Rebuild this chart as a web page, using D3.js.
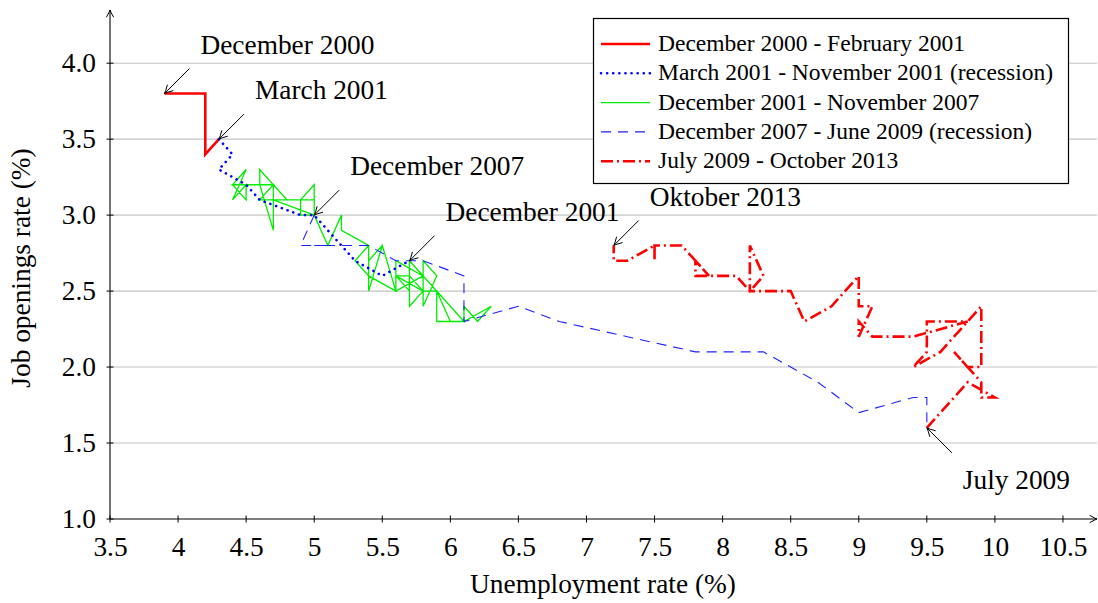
<!DOCTYPE html>
<html>
<head>
<meta charset="utf-8">
<script src="https://cdn.jsdelivr.net/npm/d3@7"></script>
<style>
  html, body { margin: 0; padding: 0; background: #fff; }
  svg { display: block; }
  svg text { fill: #000; }
</style>
</head>
<body>
<svg id="chart" width="1098" height="603"></svg>
<script>
// Beveridge curve, United States, December 2000 – October 2013
// x: unemployment rate (%), y: job openings rate (%), one point per month.

const xTickValues = [3.5, 4, 4.5, 5, 5.5, 6, 6.5, 7, 7.5, 8, 8.5, 9, 9.5, 10, 10.5];
const xTickLabels = ["3.5", "4", "4.5", "5", "5.5", "6", "6.5", "7", "7.5", "8", "8.5", "9", "9.5", "10", "10.5"];
const yTickValues = [1.0, 1.5, 2.0, 2.5, 3.0, 3.5, 4.0];
const yTickLabels = ["1.0", "1.5", "2.0", "2.5", "3.0", "3.5", "4.0"];

const periodNames = [
  "December 2000 - February 2001",
  "March 2001 - November 2001 (recession)",
  "December 2001 - November 2007",
  "December 2007 - June 2009 (recession)",
  "July 2009 - October 2013"
];

// Dec 2000 – Mar 2001
const unempDec2000 = [3.9, 4.2, 4.2, 4.3];
const openDec2000  = [3.8, 3.8, 3.4, 3.5];

// Mar 2001 – Dec 2001
const unempMar2001 = [4.3, 4.4, 4.3, 4.5, 4.6, 4.9, 5.0, 5.3, 5.5, 5.7];
const openMar2001  = [3.5, 3.4, 3.3, 3.2, 3.1, 3.0, 3.0, 2.7, 2.6, 2.7];

// Dec 2001 – Dec 2007
const unempDec2001 = [
  5.7,
  5.7, 5.8, 5.8, 5.9, 5.8, 5.8, 5.6, 5.7, 5.7, 6.0, 5.9, 6.0,
  5.9, 5.9, 6.0, 6.1, 6.3, 6.2, 6.1, 6.1, 6.0, 5.9, 5.8, 5.7,
  5.6, 5.6, 5.8, 5.6, 5.6, 5.5, 5.4, 5.4, 5.4, 5.5, 5.6, 5.4,
  5.3, 5.4, 5.2, 5.2, 5.1, 5.0, 5.0, 4.9, 5.0, 5.0, 4.9, 4.9,
  4.7, 4.8, 4.7, 4.7, 4.6, 4.6, 4.7, 4.7, 4.5, 4.4, 4.5, 4.4,
  4.5, 4.5, 4.4, 4.5, 4.4, 4.6, 4.7, 4.6, 4.7, 4.8, 4.7, 5.0
];
const openDec2001 = [
  2.7,
  2.4, 2.5, 2.7, 2.6, 2.4, 2.5, 2.6, 2.5, 2.7, 2.4, 2.5, 2.3,
  2.5, 2.3, 2.3, 2.3, 2.4, 2.3, 2.4, 2.3, 2.4, 2.5, 2.5, 2.6,
  2.6, 2.5, 2.6, 2.7, 2.5, 2.8, 2.5, 2.8, 2.7, 2.8, 2.5, 2.6,
  2.7, 2.8, 2.9, 3.0, 2.8, 3.0, 3.1, 3.1, 3.2, 3.0, 3.0, 3.1,
  3.1, 3.1, 3.2, 2.9, 3.2, 3.3, 3.2, 3.2, 3.2, 3.2, 3.3, 3.1,
  3.2, 3.1, 3.2, 3.2, 3.2, 3.2, 3.2, 3.1, 3.1, 3.1, 3.1, 3.0
];

// Dec 2007 – Jul 2009
const unempDec2007 = [5.0, 4.9, 5.0, 5.1, 5.0, 5.4, 5.6, 5.8, 6.1, 6.1, 6.5, 6.8, 7.3, 7.8, 8.3, 8.7, 9.0, 9.4, 9.5, 9.5];
const openDec2007  = [3.0, 2.8, 2.8, 2.8, 2.8, 2.8, 2.7, 2.7, 2.6, 2.3, 2.4, 2.3, 2.2, 2.1, 2.1, 1.9, 1.7, 1.8, 1.8, 1.6];

// Jul 2009 – Oct 2013
const unempJul2009 = [
  9.5, 9.6, 9.8, 10.0, 9.9, 9.9,
  9.7, 9.8, 9.9, 9.9, 9.6, 9.4, 9.5, 9.5, 9.5, 9.5, 9.8, 9.4,
  9.1, 9.0, 9.0, 9.1, 9.0, 9.0, 9.0, 9.0, 9.0, 8.8, 8.6, 8.5,
  8.3, 8.2, 8.2, 8.3, 8.2, 8.2, 8.2, 8.1, 7.8, 7.8, 7.9, 7.8,
  7.7, 7.5, 7.5, 7.5, 7.5, 7.5, 7.3, 7.2, 7.2, 7.2
];
const openJul2009 = [
  1.6, 1.7, 1.9, 1.8, 1.8, 1.9,
  2.1, 2.0, 2.0, 2.4, 2.1, 2.0, 2.1, 2.3, 2.3, 2.3, 2.3, 2.2,
  2.2, 2.3, 2.2, 2.4, 2.4, 2.4, 2.6, 2.6, 2.6, 2.4, 2.3, 2.5,
  2.5, 2.5, 2.8, 2.6, 2.5, 2.5, 2.5, 2.6, 2.6, 2.7, 2.6, 2.7,
  2.8, 2.8, 2.7, 2.8, 2.8, 2.8, 2.7, 2.7, 2.7, 2.8
];

// Labelled months: [text, unemployment, openings, side]
const callouts = [
  ["December 2000", unempDec2000[0], openDec2000[0], "above"],
  ["March 2001", unempMar2001[0], openMar2001[0], "above"],
  ["December 2007", unempDec2007[0], openDec2007[0], "above"],
  ["December 2001", unempDec2001[0], openDec2001[0], "above"],
  ["Oktober 2013", unempJul2009[unempJul2009.length - 1], openJul2009[openJul2009.length - 1], "above"],
  ["July 2009", unempJul2009[0], openJul2009[0], "below"]
];

// ---- series styles ----
const zip = (u, v) => u.map((d, i) => [d, v[i]]);
const series = [
  { name: periodNames[0], pts: zip(unempDec2000, openDec2000), color: "#ff0000", width: 2.6, dash: null, cap: "butt" },
  { name: periodNames[1], pts: zip(unempMar2001, openMar2001), color: "#0000ff", width: 2.6, dash: "0.1 6", cap: "round" },
  { name: periodNames[2], pts: zip(unempDec2001, openDec2001), color: "#00ee00", width: 1.3, dash: null, cap: "butt" },
  { name: periodNames[3], pts: zip(unempDec2007, openDec2007), color: "#2020ff", width: 1.1, dash: "10 7", cap: "butt" },
  { name: periodNames[4], pts: zip(unempJul2009, openJul2009), color: "#ff0000", width: 2.6, dash: "12 4 2 4", cap: "butt" }
];
const drawOrder = [2, 0, 1, 3, 4];

// ---- layout ----
const svg = d3.select("#chart");
const x = d3.scaleLinear().domain([3.5, 10.75]).range([110, 1097]);
const y = d3.scaleLinear().domain([1.0, 4.35]).range([519, 10]);
const x0 = x.range()[0], y0 = y.range()[0];

// choose the first installed serif face
function textWidth(family, str, size) {
  const t = svg.append("text").attr("font-family", family).attr("font-size", size).text(str);
  const w = t.node().getComputedTextLength();
  t.remove();
  return w;
}
const probe = "December 2000 mmmWWiil";
const serifCandidates = ["Liberation Serif", "Tinos", "Times New Roman", "Nimbus Roman", "Nimbus Roman No9 L",
  "FreeSerif", "DejaVu Serif", "Noto Serif", "Latin Modern Roman", "CMU Serif", "Georgia", "Times"];
let fontFamily = "serif";
for (const f of serifCandidates) {
  const a = textWidth(`"${f}", monospace`, probe, 40);
  const b = textWidth("monospace", probe, 40);
  if (Math.abs(a - b) > 0.5) { fontFamily = `"${f}", serif`; break; }
}
svg.style("font-family", fontFamily);

// pick font sizes so the face lands on the intended text widths
function fitSize(str, width) {
  return 100 * width / textWidth(fontFamily, str, 100);
}
const mainSize = fitSize("December 2000", 174);
const legendSize = fitSize(periodNames[0], 307);

// horizontal grid
svg.append("g")
  .selectAll("line")
  .data(yTickValues.filter(v => v > y.domain()[0]))
  .join("line")
  .attr("x1", x0).attr("x2", x.range()[1])
  .attr("y1", d => y(d)).attr("y2", d => y(d))
  .attr("stroke", "#c4c4c4").attr("stroke-width", 1.1);

// axes via d3-axis
const xAxis = d3.axisBottom(x)
  .tickValues(xTickValues)
  .tickFormat((d, i) => xTickLabels[i])
  .tickSize(0).tickPadding(18);
const yAxis = d3.axisLeft(y)
  .tickValues(yTickValues)
  .tickFormat((d, i) => yTickLabels[i])
  .tickSize(0).tickPadding(14);

const gx = svg.append("g").attr("transform", `translate(0,${y0})`).call(xAxis);
const gy = svg.append("g").attr("transform", `translate(${x0},0)`).call(yAxis);
[gx, gy].forEach(g => {
  g.attr("font-family", fontFamily).attr("font-size", null);
  g.select(".domain").remove();
  g.selectAll("text").attr("font-size", mainSize);
});
gx.selectAll("text").attr("dy", "0.71em");

// small tick marks on the axis lines
svg.append("g").selectAll("line").data(xTickValues).join("line")
  .attr("x1", d => x(d)).attr("x2", d => x(d))
  .attr("y1", y0 - 3.5).attr("y2", y0 + 3.5)
  .attr("stroke", "#000").attr("stroke-width", 1);
svg.append("g").selectAll("line").data(yTickValues).join("line")
  .attr("y1", d => y(d)).attr("y2", d => y(d))
  .attr("x1", x0 - 3.5).attr("x2", x0 + 3.5)
  .attr("stroke", "#000").attr("stroke-width", 1);

// axis lines with arrow tips
function arrowTip(g, hx, hy, dx, dy, len, half) {
  const nx = -dy, ny = dx;
  const bx = hx - dx * len, by = hy - dy * len;
  g.append("path")
    .attr("d", `M${bx + nx * half},${by + ny * half} Q${hx - dx * len * 0.3 + nx * 0.6},${hy - dy * len * 0.3 + ny * 0.6} ${hx},${hy} Q${hx - dx * len * 0.3 - nx * 0.6},${hy - dy * len * 0.3 - ny * 0.6} ${bx - nx * half},${by - ny * half}`)
    .attr("fill", "none").attr("stroke", "#000").attr("stroke-width", 1)
    .attr("stroke-linecap", "round").attr("stroke-linejoin", "round");
}
const axisG = svg.append("g");
axisG.append("line").attr("x1", x0).attr("x2", x.range()[1]).attr("y1", y0).attr("y2", y0)
  .attr("stroke", "#000").attr("stroke-width", 1.1);
axisG.append("line").attr("x1", x0).attr("x2", x0).attr("y1", y0).attr("y2", y.range()[1])
  .attr("stroke", "#000").attr("stroke-width", 1.1);
arrowTip(axisG, x.range()[1], y0, 1, 0, 7, 3.5);
arrowTip(axisG, x0, y.range()[1], 0, -1, 7, 3.5);

// axis titles
svg.append("text").attr("x", 603).attr("y", 593)
  .attr("text-anchor", "middle").attr("font-size", mainSize)
  .text("Unemployment rate (%)");
svg.append("text").attr("transform", "translate(30,268) rotate(-90)")
  .attr("text-anchor", "middle").attr("font-size", mainSize)
  .text("Job openings rate (%)");

// series
const line = d3.line().x(d => x(d[0])).y(d => y(d[1]));
const plotG = svg.append("g");
drawOrder.forEach(i => {
  const s = series[i];
  plotG.append("path")
    .attr("d", line(s.pts))
    .attr("fill", "none")
    .attr("stroke", s.color)
    .attr("stroke-width", s.width)
    .attr("stroke-dasharray", s.dash)
    .attr("stroke-linecap", s.cap)
    .attr("stroke-linejoin", "miter");
});

// callouts
const noteG = svg.append("g");
callouts.forEach(([label, u, v, side]) => {
  const hx = x(u), hy = y(v);
  const sgn = side === "above" ? -1 : 1;
  const tx = hx + 25, ty = hy + sgn * 25;
  noteG.append("line").attr("x1", tx).attr("y1", ty).attr("x2", hx).attr("y2", hy)
    .attr("stroke", "#000").attr("stroke-width", 1);
  const L = Math.hypot(hx - tx, hy - ty);
  arrowTip(noteG, hx, hy, (hx - tx) / L, (hy - ty) / L, 8, 4);
  noteG.append("text")
    .attr("x", hx + 36)
    .attr("y", side === "above" ? hy - 40 : hy + 61)
    .attr("font-size", mainSize)
    .text(label);
});

// legend
const leg = svg.append("g");
leg.append("rect").attr("x", 593.5).attr("y", 18.5).attr("width", 475).attr("height", 165)
  .attr("fill", "#fff").attr("stroke", "#000").attr("stroke-width", 1.2);
series.forEach((s, i) => {
  const cy = 44 + i * 29.3;
  leg.append("line").attr("x1", 601).attr("x2", 650).attr("y1", cy).attr("y2", cy)
    .attr("stroke", s.color).attr("stroke-width", s.width)
    .attr("stroke-dasharray", s.dash).attr("stroke-linecap", s.cap);
  leg.append("text").attr("x", 658).attr("y", cy + 7)
    .attr("font-size", legendSize)
    .text(s.name);
});
</script>
</body>
</html>
